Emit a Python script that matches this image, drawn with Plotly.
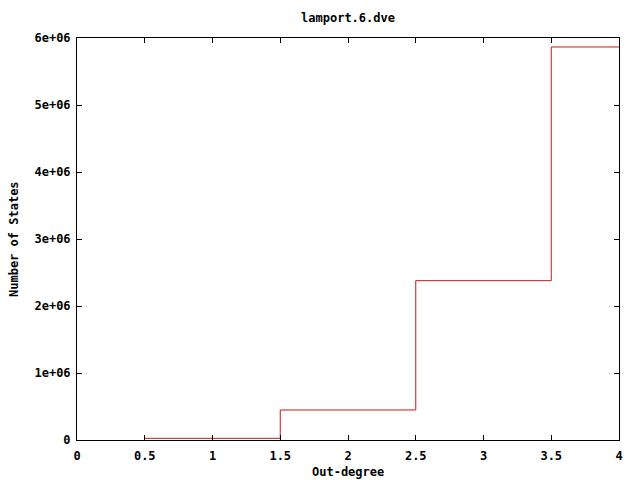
import plotly.graph_objects as go

out_degree = [1, 2, 3, 4]
num_states = [25000, 448000, 2378000, 5866000]
x_ticks = [0, 0.5, 1, 1.5, 2, 2.5, 3, 3.5, 4]
x_ticklabels = ["0", "0.5", "1", "1.5", "2", "2.5", "3", "3.5", "4"]
y_ticks = [0, 1e6, 2e6, 3e6, 4e6, 5e6, 6e6]
y_ticklabels = ["0", "1e+06", "2e+06", "3e+06", "4e+06", "5e+06", "6e+06"]

# histogram steps: bin edges around each center
xs = [c - 0.5 for c in out_degree] + [out_degree[-1] + 0.5]
ys = list(num_states) + [num_states[-1]]

font = dict(family="DejaVu Sans Mono", size=12, color="black")

fig = go.Figure()
fig.add_trace(go.Scatter(x=xs, y=ys, mode="lines", line_shape="hv",
                         line=dict(color="#c81818", width=1), showlegend=False))

axis_common = dict(showline=True, linecolor="black", linewidth=1, mirror="ticks",
                   ticks="inside", ticklen=5, tickcolor="black", tickwidth=1,
                   showgrid=False, zeroline=False, tickfont=font, automargin=False)

fig.update_xaxes(range=[0, 4], tickvals=x_ticks,
                 ticktext=["<b>%s</b>" % t for t in x_ticklabels],
                 ticklabelstandoff=5, **axis_common)
fig.update_yaxes(range=[0, 6e6], tickvals=y_ticks,
                 ticktext=["<b>%s</b>" % t for t in y_ticklabels],
                 ticklabelstandoff=3, **axis_common)

fig.add_annotation(text="<b>Out-degree</b>", xref="paper", yref="paper",
                   x=0.5, y=-32 / 402, xanchor="center", yanchor="middle",
                   showarrow=False, font=font)
fig.add_annotation(text="<b>Number of States</b>", xref="paper", yref="paper",
                   x=-63 / 542, y=0.5, xanchor="center", yanchor="middle",
                   textangle=-90, showarrow=False, font=font)

fig.update_layout(
    width=640, height=480,
    margin=dict(l=77, r=21, t=38, b=40),
    plot_bgcolor="white", paper_bgcolor="white",
    title=dict(text="<b>lamport.6.dve</b>", font=font, x=(77 + 619) / 2 / 640,
               xanchor="center", y=1 - 18 / 480, yanchor="middle"),
)

fig.write_html("out.html", config={"displayModeBar": False},
               post_script="document.body.style.margin='0';")
